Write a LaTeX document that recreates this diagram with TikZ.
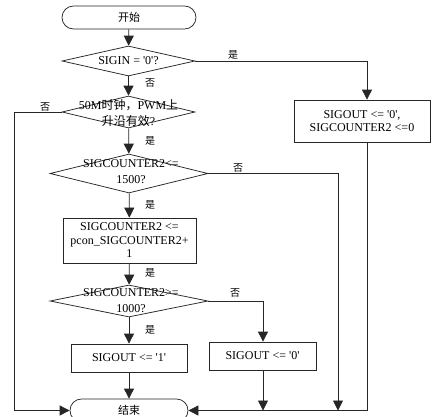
\documentclass[tikz,border=0pt]{standalone}
\usepackage{fontspec}
\setmainfont{Liberation Serif}
\newfontfamily\cjk{Noto Sans CJK SC}
\usetikzlibrary{shapes.geometric,arrows.meta}
\newcommand{\sq}{\textquotesingle}
\begin{document}
\begin{tikzpicture}[x=1pt,y=-1pt, line width=0.75pt, draw=black!85,
  arr/.style={-{Triangle[length=10pt,width=10pt]}},
  box/.style={draw, rectangle, inner sep=0pt, align=center, font=\fontsize{12}{13.5}\selectfont},
  dia/.style={draw, diamond, inner sep=0pt},
  dtext/.style={inner sep=0pt, align=center, font=\fontsize{12}{16}\selectfont},
  term/.style={draw, rectangle, rounded corners=11.5pt, inner sep=0pt, font=\cjk\fontsize{11}{12}\selectfont},
  lbl/.style={inner sep=0pt, font=\cjk\fontsize{10}{11}\selectfont}]
\useasboundingbox (0,0) rectangle (432,416);
\clip (0,0) rectangle (432,416);

\node[term, minimum width=134pt, minimum height=23pt] (start) at (129,17.5) {开始};
\node[dia, minimum width=133pt, minimum height=30pt] (d1) at (128.5,61) {};
\node[dtext] (t1) at (d1) {SIGIN = \sq0\sq?};
\node[dia, minimum width=133pt, minimum height=32pt] (d2) at (128.5,112) {};
\node[dtext] (t2) at (128.5,113) {50M{\cjk 时钟，}PWM{\cjk 上}\\{\cjk 升沿有效}?};
\node[box, minimum width=136pt, minimum height=42pt] (rbox) at (362,121) {SIGOUT <= \sq0\sq,\\SIGCOUNTER2 <=0};
\node[dia, minimum width=158pt, minimum height=39pt] (d3) at (129,173.5) {};
\node[dtext] (t3) at (131,172) {SIGCOUNTER2<=\\1500?};
\node[box, minimum width=133pt, minimum height=45pt] (b4) at (129.5,240.5) {SIGCOUNTER2 <=\\pcon\_SIGCOUNTER2+\\1};
\node[dia, minimum width=158pt, minimum height=32pt] (d5) at (129,301) {};
\node[dtext] (t5) at (131,301) {SIGCOUNTER2>=\\1000?};
\node[box, minimum width=116pt, minimum height=28pt] (b6) at (129,358) {SIGOUT <= \sq1\sq};
\node[box, minimum width=107pt, minimum height=28pt] (b7) at (262.5,356) {SIGOUT <= \sq0\sq};
\node[term, minimum width=118pt, minimum height=23pt] (end) at (129,410.5) {结束};

\coordinate (c1) at (367,61);
\coordinate (cl) at (14,410.5);
\coordinate (c3) at (338,173.5);
\coordinate (c3b) at (338,410.5);
\coordinate (cr) at (367,142);
\coordinate (crb) at (367,410.5);
\coordinate (c5) at (263,301);
\coordinate (c7b) at (263,410.5);

\draw[arr] (start) -- (d1);
\draw[arr] (d1.east) -- (c1) -- (c1 |- rbox.north);
\draw[arr] (d1) -- (d2);
\draw[arr] (d2.west) -- (d2.west -| cl) -- (cl) -- (end.west);
\draw[arr] (d2) -- (d3);
\draw[arr] (d3.east) -- (c3) -- (c3b);
\draw (cr) -- (crb);
\draw[arr] (crb) -- (end.east);
\draw[arr] (d3) -- (b4);
\draw[arr] (b4) -- (d5);
\draw[arr] (d5.east) -- (c5) -- (c5 |- b7.north);
\draw[arr] (d5) -- (b6);
\draw[arr] (b6) -- (end);
\draw[arr] (c5 |- b7.south) -- (c7b);

\node[lbl] (l1) at (233,55) {是};
\node[lbl] (l2) at (150,83) {否};
\node[lbl] (l3) at (45,107) {否};
\node[lbl] (l4) at (150,141) {是};
\node[lbl] (l5) at (238,168) {否};
\node[lbl] (l6) at (150,205) {是};
\node[lbl] (l7) at (150,273) {是};
\node[lbl] (l8) at (235,293) {否};
\node[lbl] (l9) at (150,330) {是};
\end{tikzpicture}
\end{document}
